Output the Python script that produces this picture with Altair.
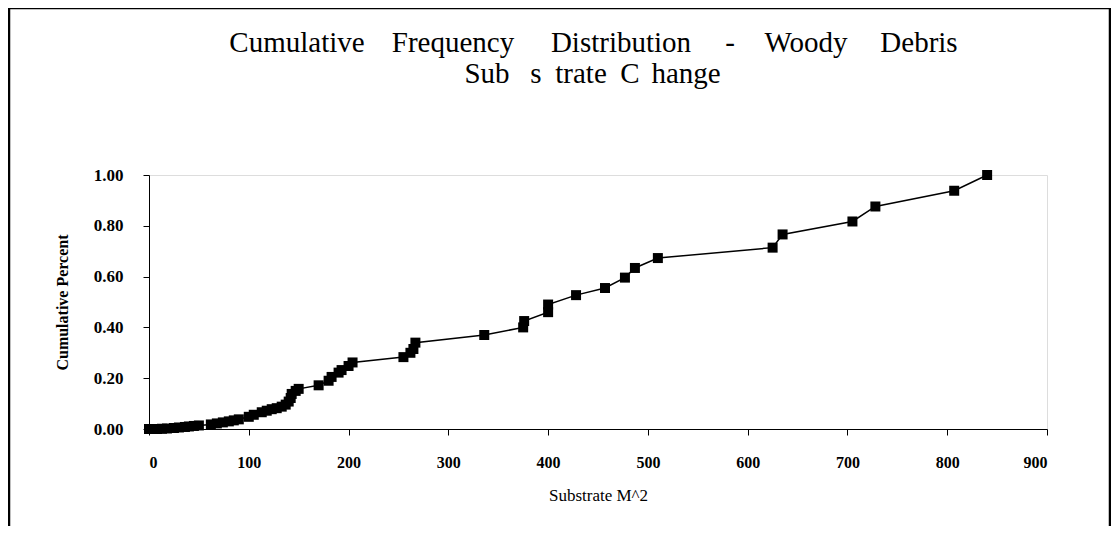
import altair as alt
import pandas as pd

substrate = [0, 4, 8, 13, 18, 25, 30, 36, 40, 45, 50, 62, 68, 74, 80, 85, 90,
             100, 105, 113, 118, 123, 128, 133, 137, 140, 142, 143, 147, 150,
             170, 180, 183, 190, 193, 200, 204, 255, 262, 265, 267, 336, 375,
             376, 400, 400, 428, 457, 477, 487, 510, 625, 635, 705, 728, 807, 840]
cum_pct = [0.000, 0.000, 0.000, 0.001, 0.002, 0.004, 0.006, 0.008, 0.010, 0.012,
           0.014, 0.018, 0.022, 0.026, 0.030, 0.034, 0.038, 0.048, 0.056, 0.066,
           0.072, 0.078, 0.082, 0.088, 0.096, 0.108, 0.122, 0.138, 0.150, 0.158,
           0.172, 0.190, 0.205, 0.222, 0.232, 0.248, 0.262, 0.283, 0.300, 0.315,
           0.340, 0.370, 0.400, 0.425, 0.460, 0.490, 0.527, 0.555, 0.596, 0.634,
           0.673, 0.714, 0.766, 0.817, 0.876, 0.938, 1.000]
x_ticks = [0, 100, 200, 300, 400, 500, 600, 700, 800, 900]
y_ticks = [0.0, 0.2, 0.4, 0.6, 0.8, 1.0]

# title text, word by word (the scanned title is widely spaced)
title_words_1 = ["Cumulative", "Frequency", "Distribution", "-", "Woody", "Debris"]
title_words_2 = ["Sub", "s", "trate", "C", "hange"]

# layout only: word centres in page pixels, converted to plot-relative pixels
PLOT_LEFT = 149
word_centres_1 = [297, 453, 621, 730, 806, 919]
word_centres_2 = [487, 536, 581, 630, 686]
line_y = [-132, -101]

df = pd.DataFrame({"x": substrate, "y": cum_pct, "order": list(range(len(substrate)))})

SERIF = "Liberation Serif"
TITLE_FONT = "Liberation Serif, Times New Roman, serif"

x_enc = alt.X("x:Q", scale=alt.Scale(domain=[0, 900], nice=False, zero=True),
              axis=alt.Axis(values=x_ticks, title="Substrate M^2", grid=False,
                            labelFont=SERIF, labelFontSize=16, labelFontWeight="bold",
                            titleFont=SERIF, titleFontSize=17, titleFontWeight="normal",
                            labelPadding=19, titlePadding=17, tickSize=6,
                            domainColor="black", tickColor="black",
                            labelColor="black", titleColor="black"))
y_enc = alt.Y("y:Q", scale=alt.Scale(domain=[0, 1], nice=False),
              axis=alt.Axis(values=y_ticks, format=".2f", title="Cumulative Percent",
                            grid=False, labelFont=SERIF, labelFontSize=17,
                            labelFontWeight="bold", titleFont=SERIF, titleFontSize=16,
                            titleFontWeight="bold", labelPadding=20, titlePadding=23,
                            tickSize=6, domainColor="black", tickColor="black",
                            labelColor="black", titleColor="black"))

base = alt.Chart(df).encode(x=x_enc, y=y_enc, order="order:Q")
line = base.mark_line(color="black", strokeWidth=1.5)
pts = base.mark_point(shape="square", filled=True, size=100, color="black", opacity=1)

one = alt.Data(values=[{"a": 1}])
frame = alt.Chart(one).mark_rect(
    filled=False, stroke="black", strokeWidth=2.5
).encode(x=alt.value(-140), x2=alt.value(961), y=alt.value(-167), y2=alt.value(420))

word_layers = []
for words, centres, yy in [(title_words_1, word_centres_1, line_y[0]),
                           (title_words_2, word_centres_2, line_y[1])]:
    for w, c in zip(words, centres):
        word_layers.append(
            alt.Chart(one).mark_text(
                font=TITLE_FONT, fontSize=29, color="black",
                align="center", baseline="middle"
            ).encode(x=alt.value(c - PLOT_LEFT), y=alt.value(yy), text=alt.value(w))
        )

chart = alt.layer(frame, *word_layers, line, pts).properties(
    width=898, height=254,
    autosize=alt.AutoSizeParams(type="none"),
    padding={"left": 141, "top": 167, "right": 64, "bottom": 97},
).configure_view(stroke=None).configure(background="white")

chart.save("out.html", embed_options={"renderer": "svg", "actions": False})
